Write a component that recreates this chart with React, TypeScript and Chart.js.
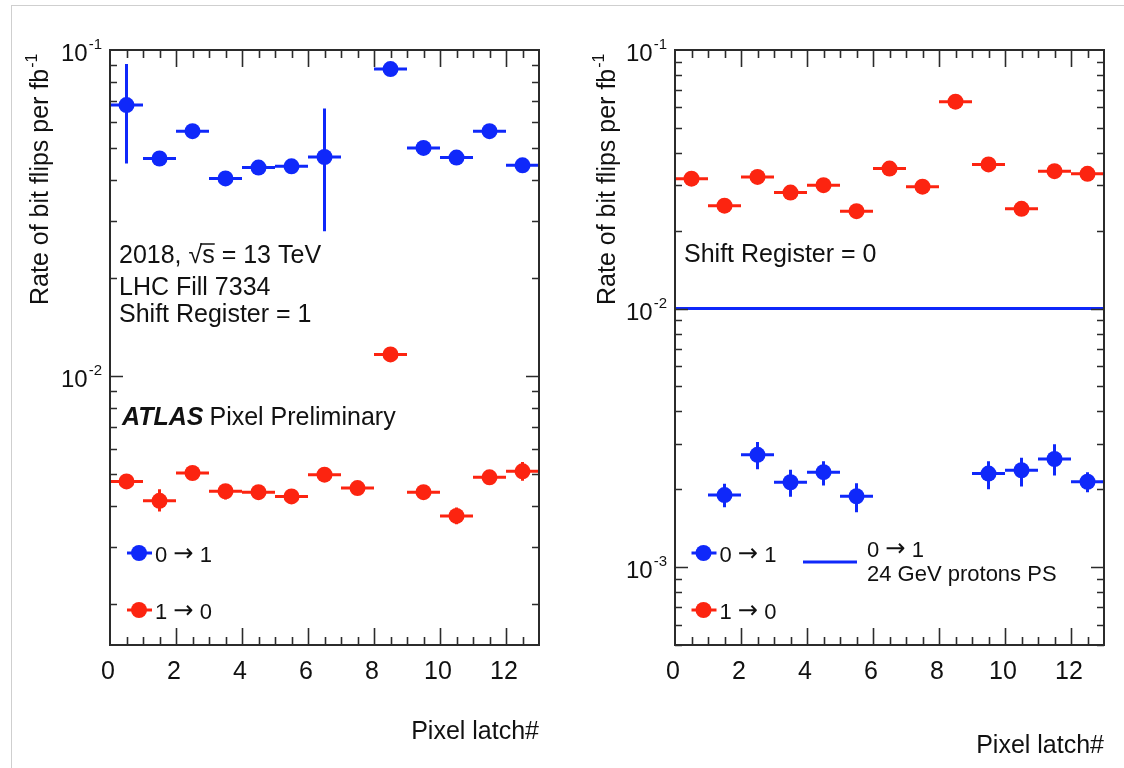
import React, { useEffect, useRef } from "react";
import { Chart, registerables } from "chart.js";

Chart.register(...registerables);

// ---------------- data ----------------
const latchBins = [0.5, 1.5, 2.5, 3.5, 4.5, 5.5, 6.5, 7.5, 8.5, 9.5, 10.5, 11.5, 12.5];
const binHalfWidth = 0.5;
const xMajorTicks = [0, 2, 4, 6, 8, 10, 12];
const xTickLabels = ["0", "2", "4", "6", "8", "10", "12"];
const xMinorStep = 0.5;
const xRange = [0, 13];

// Shift Register = 1 (left panel)
const sr1Flip01 = [0.0678, 0.0465, 0.0564, 0.0404, 0.0436, 0.044, 0.047, null, 0.0874, 0.0501, 0.0468, 0.0564, 0.0443];
const sr1Flip01Low = [0.0449, 0.0457, 0.0556, 0.0397, 0.0429, 0.0433, 0.0278, null, 0.0864, 0.0493, 0.046, 0.0556, 0.0436];
const sr1Flip01High = [0.0906, 0.0473, 0.0572, 0.0411, 0.0443, 0.0447, 0.0662, null, 0.0884, 0.0509, 0.0476, 0.0572, 0.045];
const sr1Flip10 = [0.00476, 0.00415, 0.00505, 0.00444, 0.00441, 0.00428, 0.00499, 0.00454, 0.01166, 0.00441, 0.00373, 0.0049, 0.00511];
const sr1Flip10Low = [0.00466, 0.00385, 0.00492, 0.00419, 0.00418, 0.00408, 0.00487, 0.00445, 0.0115, 0.0043, 0.00352, 0.00478, 0.00478];
const sr1Flip10High = [0.00486, 0.0045, 0.00518, 0.00465, 0.00464, 0.00449, 0.00511, 0.00463, 0.0118, 0.00452, 0.00396, 0.00502, 0.00546];

// Shift Register = 0 (right panel)
const sr0Flip10 = [0.0318, 0.025, 0.0323, 0.0281, 0.03, 0.0238, 0.0348, 0.0296, 0.0631, 0.0361, 0.0243, 0.034, 0.0332];
const sr0Flip10Low = [0.0312, 0.0245, 0.0317, 0.0276, 0.0294, 0.0233, 0.0342, 0.029, 0.0622, 0.0355, 0.0238, 0.0334, 0.0326];
const sr0Flip10High = [0.0324, 0.0255, 0.0329, 0.0286, 0.0306, 0.0243, 0.0354, 0.0302, 0.064, 0.0367, 0.0248, 0.0346, 0.0338];
const sr0Flip01 = [null, 0.0019, 0.00272, 0.00213, 0.00233, 0.00188, null, null, null, 0.0023, 0.00237, 0.00262, 0.00214];
const sr0Flip01Low = [null, 0.001706, 0.00239, 0.00187, 0.00207, 0.00163, null, null, null, 0.002, 0.00205, 0.00226, 0.00195];
const sr0Flip01High = [null, 0.0021, 0.00305, 0.00238, 0.00257, 0.00211, null, null, null, 0.00257, 0.00265, 0.00299, 0.00233];

const ps24GeVFlip01 = 0.01;

const leftYRange = [0.0015, 0.1];
const rightYRange = [0.0005, 0.1];

// ---------------- style ----------------
const BLUE = "#0f28fa";
const RED = "#fc2410";
const FRAME = "#2b2b2b";
const FONT = '"Liberation Sans", Arial, Helvetica, sans-serif';
const ARROW_FONT = '"DejaVu Sans", "Liberation Sans", sans-serif';

type Num = number | null;
interface Series {
  values: Num[];
  low: Num[];
  high: Num[];
  color: string;
}
interface PanelSpec {
  id: string;
  yRange: number[];
  padding: { left: number; right: number; top: number; bottom: number };
  series: Series[];
  refLine?: number;
  annotate: (ctx: CanvasRenderingContext2D, chart: any) => void;
}

function drawArrowText(ctx: CanvasRenderingContext2D, label: string, x: number, y: number, size: number) {
  const parts = label.split("\u2192");
  ctx.save();
  ctx.fillStyle = "#111";
  ctx.textAlign = "left";
  ctx.textBaseline = "alphabetic";
  let cx = x;
  parts.forEach((p, i) => {
    if (i > 0) {
      ctx.font = `${size * 1.1}px ${ARROW_FONT}`;
      ctx.fillText("\u2192", cx, y - size * 0.04);
      cx += ctx.measureText("\u2192").width;
    }
    ctx.font = `${size}px ${FONT}`;
    ctx.fillText(p, cx, y);
    cx += ctx.measureText(p).width;
  });
  ctx.restore();
}

function drawMarkerLegend(ctx: CanvasRenderingContext2D, cx: number, cy: number, color: string, label: string) {
  ctx.save();
  ctx.strokeStyle = color;
  ctx.fillStyle = color;
  ctx.lineWidth = 3;
  ctx.beginPath();
  ctx.moveTo(cx - 12, cy);
  ctx.lineTo(cx + 13, cy);
  ctx.stroke();
  ctx.beginPath();
  ctx.arc(cx, cy, 8, 0, Math.PI * 2);
  ctx.fill();
  ctx.restore();
  drawArrowText(ctx, label, cx + 16, cy + 9, 22);
}

function drawYTitle(ctx: CanvasRenderingContext2D, baseX: number, startY: number) {
  ctx.save();
  ctx.translate(baseX, startY);
  ctx.rotate(-Math.PI / 2);
  ctx.fillStyle = "#111";
  ctx.font = `25px ${FONT}`;
  ctx.textAlign = "left";
  ctx.textBaseline = "alphabetic";
  const main = "Rate of bit flips per fb";
  ctx.fillText(main, 0, 0);
  const w = ctx.measureText(main).width;
  ctx.font = `16px ${FONT}`;
  ctx.fillText("-1", w + 1, -11);
  ctx.restore();
}

function drawXTitle(ctx: CanvasRenderingContext2D, rightX: number, baseline: number) {
  ctx.save();
  ctx.fillStyle = "#111";
  ctx.font = `25px ${FONT}`;
  ctx.textAlign = "right";
  ctx.textBaseline = "alphabetic";
  ctx.fillText("Pixel latch#", rightX, baseline);
  ctx.restore();
}

function makePlugin(spec: PanelSpec) {
  return {
    id: "rootStyle_" + spec.id,
    beforeDatasetsDraw(chart: any) {
      const ctx: CanvasRenderingContext2D = chart.ctx;
      const xs = chart.scales.x;
      const ys = chart.scales.y;
      const a = chart.chartArea;
      ctx.save();
      ctx.beginPath();
      ctx.rect(a.left, a.top, a.right - a.left, a.bottom - a.top);
      ctx.clip();
      for (const s of spec.series) {
        ctx.strokeStyle = s.color;
        ctx.lineWidth = 3;
        s.values.forEach((v, i) => {
          if (v == null) return;
          const x = latchBins[i];
          const px = xs.getPixelForValue(x);
          const py = ys.getPixelForValue(v);
          ctx.beginPath();
          ctx.moveTo(xs.getPixelForValue(x - binHalfWidth), py);
          ctx.lineTo(xs.getPixelForValue(x + binHalfWidth), py);
          const lo = s.low[i];
          const hi = s.high[i];
          if (lo != null && hi != null) {
            ctx.moveTo(px, ys.getPixelForValue(lo));
            ctx.lineTo(px, ys.getPixelForValue(hi));
          }
          ctx.stroke();
        });
      }
      ctx.restore();
    },
    afterDraw(chart: any) {
      const ctx: CanvasRenderingContext2D = chart.ctx;
      const xs = chart.scales.x;
      const ys = chart.scales.y;
      const a = chart.chartArea;
      ctx.save();
      // frame
      ctx.strokeStyle = FRAME;
      ctx.lineWidth = 2;
      ctx.strokeRect(a.left, a.top, a.right - a.left, a.bottom - a.top);
      ctx.lineWidth = 1.6;
      ctx.beginPath();
      // x ticks
      for (let v = xRange[0] + xMinorStep; v < xRange[1] - 1e-9; v += xMinorStep) {
        const isMajor = xMajorTicks.some((m) => Math.abs(m - v) < 1e-9);
        const len = isMajor ? 17 : 8;
        const px = Math.round(xs.getPixelForValue(v)) + 0.5;
        ctx.moveTo(px, a.bottom);
        ctx.lineTo(px, a.bottom - len);
        ctx.moveTo(px, a.top);
        ctx.lineTo(px, a.top + len);
      }
      // y log ticks
      const [yMin, yMax] = spec.yRange;
      const decades: number[] = [];
      for (let d = Math.floor(Math.log10(yMin)); d <= Math.ceil(Math.log10(yMax)); d++) decades.push(d);
      const majorY: number[] = [];
      for (const d of decades) {
        for (let m = 1; m <= 9; m++) {
          const v = m * Math.pow(10, d);
          if (v < yMin * 0.999 || v > yMax * 1.001) continue;
          const py = Math.round(ys.getPixelForValue(v)) + 0.5;
          const len = m === 1 ? 13 : 7;
          if (m === 1) majorY.push(d);
          if (v >= yMax * 0.999) continue;
          ctx.moveTo(a.left, py);
          ctx.lineTo(a.left + len, py);
          ctx.moveTo(a.right, py);
          ctx.lineTo(a.right - len, py);
        }
      }
      ctx.stroke();

      // x tick labels
      ctx.fillStyle = "#111";
      ctx.font = `25px ${FONT}`;
      ctx.textAlign = "center";
      ctx.textBaseline = "alphabetic";
      xMajorTicks.forEach((v, i) => {
        ctx.fillText(xTickLabels[i], xs.getPixelForValue(v) - 2, a.bottom + 34);
      });

      // y tick labels 10^d
      for (const d of majorY) {
        const py = ys.getPixelForValue(Math.pow(10, d));
        ctx.font = `15px ${FONT}`;
        ctx.textAlign = "right";
        const sup = String(d);
        const supW = ctx.measureText(sup).width;
        const supRight = a.left - 8;
        ctx.fillText(sup, supRight, py - 1);
        ctx.font = `24px ${FONT}`;
        ctx.fillText("10", supRight - supW - 1, py + 11);
      }
      ctx.restore();

      spec.annotate(ctx, chart);
    },
  };
}

function annotateLeft(ctx: CanvasRenderingContext2D) {
  drawYTitle(ctx, 48, 305);
  drawXTitle(ctx, 539, 739);
  ctx.save();
  ctx.fillStyle = "#111";
  ctx.font = `25px ${FONT}`;
  ctx.textAlign = "left";
  ctx.textBaseline = "alphabetic";
  const x0 = 119;
  const pre = "2018, ";
  ctx.fillText(pre + "\u221As = 13 TeV", x0, 263);
  const wPre = ctx.measureText(pre).width;
  const wRoot = ctx.measureText("\u221A").width;
  const wS = ctx.measureText("s").width;
  ctx.strokeStyle = "#111";
  ctx.lineWidth = 1.5;
  ctx.beginPath();
  ctx.moveTo(x0 + wPre + wRoot - 2, 263 - 19);
  ctx.lineTo(x0 + wPre + wRoot + wS, 263 - 19);
  ctx.stroke();
  ctx.fillText("LHC Fill 7334", x0, 295);
  ctx.fillText("Shift Register = 1", x0, 322);
  ctx.font = `italic bold 25px ${FONT}`;
  ctx.fillText("ATLAS", 122, 425);
  const wAtlas = ctx.measureText("ATLAS").width;
  ctx.font = `25px ${FONT}`;
  ctx.fillText("Pixel Preliminary", 122 + wAtlas + 6, 425);
  ctx.restore();
  drawMarkerLegend(ctx, 139, 553, BLUE, "0 \u2192 1");
  drawMarkerLegend(ctx, 139, 610, RED, "1 \u2192 0");
}

function annotateRight(ctx: CanvasRenderingContext2D) {
  drawYTitle(ctx, 53, 305);
  drawXTitle(ctx, 542, 753);
  ctx.save();
  ctx.fillStyle = "#111";
  ctx.font = `25px ${FONT}`;
  ctx.textAlign = "left";
  ctx.textBaseline = "alphabetic";
  ctx.fillText("Shift Register = 0", 122, 262);
  ctx.restore();
  drawMarkerLegend(ctx, 141.5, 553, BLUE, "0 \u2192 1");
  drawMarkerLegend(ctx, 141.5, 610, RED, "1 \u2192 0");
  ctx.save();
  ctx.strokeStyle = BLUE;
  ctx.lineWidth = 3;
  ctx.beginPath();
  ctx.moveTo(241, 562);
  ctx.lineTo(295, 562);
  ctx.stroke();
  ctx.restore();
  drawArrowText(ctx, "0 \u2192 1", 305, 557, 22);
  ctx.save();
  ctx.fillStyle = "#111";
  ctx.font = `22px ${FONT}`;
  ctx.textAlign = "left";
  ctx.fillText("24 GeV protons PS", 305, 581);
  ctx.restore();
}

const leftSpec: PanelSpec = {
  id: "left",
  yRange: leftYRange,
  padding: { left: 110, right: 23, top: 50, bottom: 123 },
  series: [
    { values: sr1Flip10, low: sr1Flip10Low, high: sr1Flip10High, color: RED },
    { values: sr1Flip01, low: sr1Flip01Low, high: sr1Flip01High, color: BLUE },
  ],
  annotate: annotateLeft,
};

const rightSpec: PanelSpec = {
  id: "right",
  yRange: rightYRange,
  padding: { left: 113, right: 20, top: 50, bottom: 123 },
  series: [
    { values: sr0Flip10, low: sr0Flip10Low, high: sr0Flip10High, color: RED },
    { values: sr0Flip01, low: sr0Flip01Low, high: sr0Flip01High, color: BLUE },
  ],
  refLine: ps24GeVFlip01,
  annotate: annotateRight,
};

function toPoints(values: Num[]) {
  const pts: { x: number; y: number }[] = [];
  values.forEach((v, i) => {
    if (v != null) pts.push({ x: latchBins[i], y: v });
  });
  return pts;
}

function Panel({ spec, left }: { spec: PanelSpec; left: number }) {
  const ref = useRef<HTMLCanvasElement | null>(null);
  useEffect(() => {
    if (!ref.current) return;
    const datasets: any[] = [];
    if (spec.refLine != null) {
      datasets.push({
        data: [
          { x: xRange[0], y: spec.refLine },
          { x: xRange[1], y: spec.refLine },
        ],
        showLine: true,
        borderColor: BLUE,
        borderWidth: 3,
        pointRadius: 0,
        order: 5,
      });
    }
    spec.series.forEach((s) => {
      datasets.push({
        data: toPoints(s.values),
        showLine: false,
        pointRadius: 8,
        pointHoverRadius: 8,
        pointBackgroundColor: s.color,
        pointBorderColor: s.color,
        pointBorderWidth: 0,
        backgroundColor: s.color,
        borderColor: s.color,
      });
    });
    const chart = new Chart(ref.current, {
      type: "scatter",
      data: { datasets },
      options: {
        animation: false,
        responsive: false,
        events: [],
        layout: { padding: spec.padding },
        plugins: { legend: { display: false }, tooltip: { enabled: false } },
        scales: {
          x: { type: "linear", min: xRange[0], max: xRange[1], display: false },
          y: { type: "logarithmic", min: spec.yRange[0], max: spec.yRange[1], display: false },
        },
      },
      plugins: [makePlugin(spec)],
    } as any);
    return () => chart.destroy();
  }, [spec]);
  return (
    <canvas
      ref={ref}
      width={562}
      height={768}
      style={{ position: "absolute", left, top: 0, width: 562, height: 768 }}
    />
  );
}

export default function App() {
  return (
    <div
      style={{
        position: "fixed",
        left: 0,
        top: 0,
        width: 1124,
        height: 768,
        overflow: "hidden",
        background: "#ffffff",
      }}
    >
      <div style={{ position: "absolute", left: 11, top: 5, width: 1113, height: 1, background: "#cfcfcf" }} />
      <div style={{ position: "absolute", left: 11, top: 5, width: 1, height: 763, background: "#cfcfcf" }} />
      <Panel spec={leftSpec} left={0} />
      <Panel spec={rightSpec} left={562} />
    </div>
  );
}
